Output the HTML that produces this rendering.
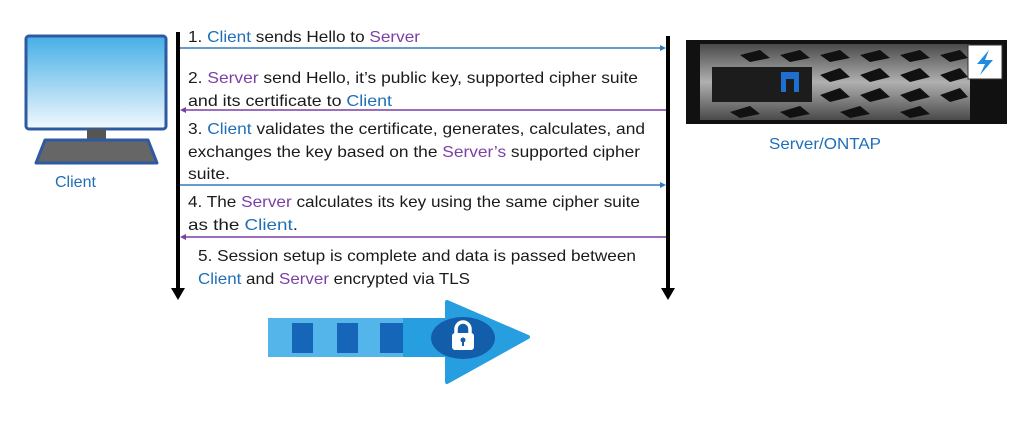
<!DOCTYPE html>
<html><head><meta charset="utf-8"><style>
html,body{margin:0;padding:0;background:#fff;}
svg{display:block;}
text{font-family:"Liberation Sans",sans-serif;font-size:16px;fill:#1a1a1a;}
.b{fill:#1f6fb8}.p{fill:#7b3fa6}
</style></head><body>
<svg width="1024" height="436" viewBox="0 0 1024 436" xmlns="http://www.w3.org/2000/svg">
<defs>
<linearGradient id="scr" x1="0" y1="0" x2="0" y2="1"><stop offset="0" stop-color="#45aee6"/><stop offset="1" stop-color="#f2f9fd"/></linearGradient>
<linearGradient id="srv" x1="0" y1="0" x2="0" y2="1"><stop offset="0" stop-color="#4a4a4a"/><stop offset="0.5" stop-color="#b0b0b0"/><stop offset="1" stop-color="#4a4a4a"/></linearGradient>
</defs>
<!-- Client computer -->
<rect x="26" y="36" width="140" height="93" rx="3" fill="url(#scr)" stroke="#2d5aa0" stroke-width="3"/>
<rect x="87" y="129" width="19" height="10" fill="#555"/>
<path d="M45 140 L148 140 L157 163 L36 163 Z" fill="#666" stroke="#2d5aa0" stroke-width="3" stroke-linejoin="round"/>
<text x="55" y="187" class="b">Client</text>
<!-- Server -->
<rect x="686" y="40" width="321" height="84" fill="#111"/>
<rect x="700" y="44" width="270" height="76" fill="url(#srv)"/>
<g fill="#111">
<polygon points="740,55 760,50 770,58 750,62"/><polygon points="780,55 800,50 810,58 790,62"/><polygon points="820,55 840,50 850,58 830,62"/><polygon points="860,55 880,50 890,58 870,62"/><polygon points="900,55 920,50 930,58 910,62"/><polygon points="940,55 960,50 968,58 950,62"/>
<polygon points="820,75 840,68 850,77 830,82"/><polygon points="860,75 880,68 890,77 870,82"/><polygon points="900,75 920,68 930,77 910,82"/><polygon points="940,75 960,68 968,77 950,82"/>
<polygon points="820,95 840,88 850,97 830,102"/><polygon points="860,95 880,88 890,97 870,102"/><polygon points="900,95 920,88 930,97 910,102"/><polygon points="940,95 960,88 968,97 950,102"/>
<polygon points="730,112 750,106 760,114 740,118"/><polygon points="780,112 800,106 810,114 790,118"/><polygon points="840,112 860,106 870,114 850,118"/><polygon points="900,112 920,106 930,114 910,118"/>
</g>
<rect x="712" y="67" width="100" height="35" fill="#1c1c1c"/>
<rect x="781" y="72" width="18" height="20" fill="#1f6fd0"/>
<rect x="786" y="79" width="8" height="13" fill="#1c1c1c"/>
<rect x="968" y="45" width="34" height="34" fill="#fff" stroke="#333"/>
<path d="M989 50 L977 64 L985 64 L980 75 L993 60 L985 60 Z" fill="#1f8be0"/>
<rect x="785" y="120" width="30" height="4" fill="#111"/>
<text x="769" y="149" class="b" textLength="112" lengthAdjust="spacingAndGlyphs">Server/ONTAP</text>
<!-- vertical lines -->
<rect x="176" y="32" width="4" height="258" fill="#000"/>
<polygon points="171,288 185,288 178,300" fill="#000"/>
<rect x="666" y="36" width="4" height="254" fill="#000"/>
<polygon points="661,288 675,288 668,300" fill="#000"/>
<!-- horizontal arrows -->
<line x1="180" y1="48" x2="662" y2="48" stroke="#2f7cc2" stroke-width="1.5"/><polygon points="666,48 660,45 660,51" fill="#2f7cc2"/>
<line x1="184" y1="110" x2="666" y2="110" stroke="#7b3fa6" stroke-width="1.5"/><polygon points="180,110 186,107 186,113" fill="#7b3fa6"/>
<line x1="180" y1="185" x2="662" y2="185" stroke="#2f7cc2" stroke-width="1.5"/><polygon points="666,185 660,182 660,188" fill="#2f7cc2"/>
<line x1="184" y1="237" x2="666" y2="237" stroke="#7b3fa6" stroke-width="1.5"/><polygon points="180,237 186,234 186,240" fill="#7b3fa6"/>
<!-- texts -->
<text x="188" y="42" textLength="232" lengthAdjust="spacingAndGlyphs">1. <tspan class="b">Client</tspan> sends Hello to <tspan class="p">Server</tspan></text>
<text x="188" y="83" textLength="450" lengthAdjust="spacingAndGlyphs">2. <tspan class="p">Server</tspan> send Hello, it’s public key, supported cipher suite</text>
<text x="188" y="106" textLength="204" lengthAdjust="spacingAndGlyphs">and its certificate to <tspan class="b">Client</tspan></text>
<text x="188" y="134" textLength="457" lengthAdjust="spacingAndGlyphs">3. <tspan class="b">Client</tspan> validates the certificate, generates, calculates, and</text>
<text x="188" y="157" textLength="452" lengthAdjust="spacingAndGlyphs">exchanges the key based on the <tspan class="p">Server’s</tspan> supported cipher</text>
<text x="188" y="179" textLength="42" lengthAdjust="spacingAndGlyphs">suite.</text>
<text x="188" y="207" textLength="452" lengthAdjust="spacingAndGlyphs">4. The <tspan class="p">Server</tspan> calculates its key using the same cipher suite</text>
<text x="188" y="230" textLength="110" lengthAdjust="spacingAndGlyphs">as the <tspan class="b">Client</tspan>.</text>
<text x="198" y="261" textLength="438" lengthAdjust="spacingAndGlyphs">5. Session setup is complete and data is passed between</text>
<text x="198" y="284" textLength="272" lengthAdjust="spacingAndGlyphs"><tspan class="b">Client</tspan> and <tspan class="p">Server</tspan> encrypted via TLS</text>
<!-- big arrow -->
<rect x="268" y="318" width="180" height="39" fill="#54b5ea"/>
<rect x="292" y="323" width="21" height="30" fill="#1565b8"/>
<rect x="337" y="323" width="21" height="30" fill="#1565b8"/>
<rect x="380" y="323" width="23" height="30" fill="#1565b8"/>
<rect x="403" y="318" width="45" height="39" fill="#279ee0"/>
<polygon points="447,302 528,337 447,382" fill="#279ee0" stroke="#279ee0" stroke-width="4" stroke-linejoin="round"/>
<ellipse cx="463" cy="338" rx="32" ry="21" fill="#135eab"/>
<path d="M456 334 v-5 a7 7 0 0 1 14 0 v5" fill="none" stroke="#fff" stroke-width="3.5"/>
<rect x="452" y="333" width="22" height="17" rx="3" fill="#fff"/>
<circle cx="463" cy="340" r="2.5" fill="#135eab"/><rect x="462" y="341" width="2" height="5" fill="#135eab"/>
</svg>
</body></html>
